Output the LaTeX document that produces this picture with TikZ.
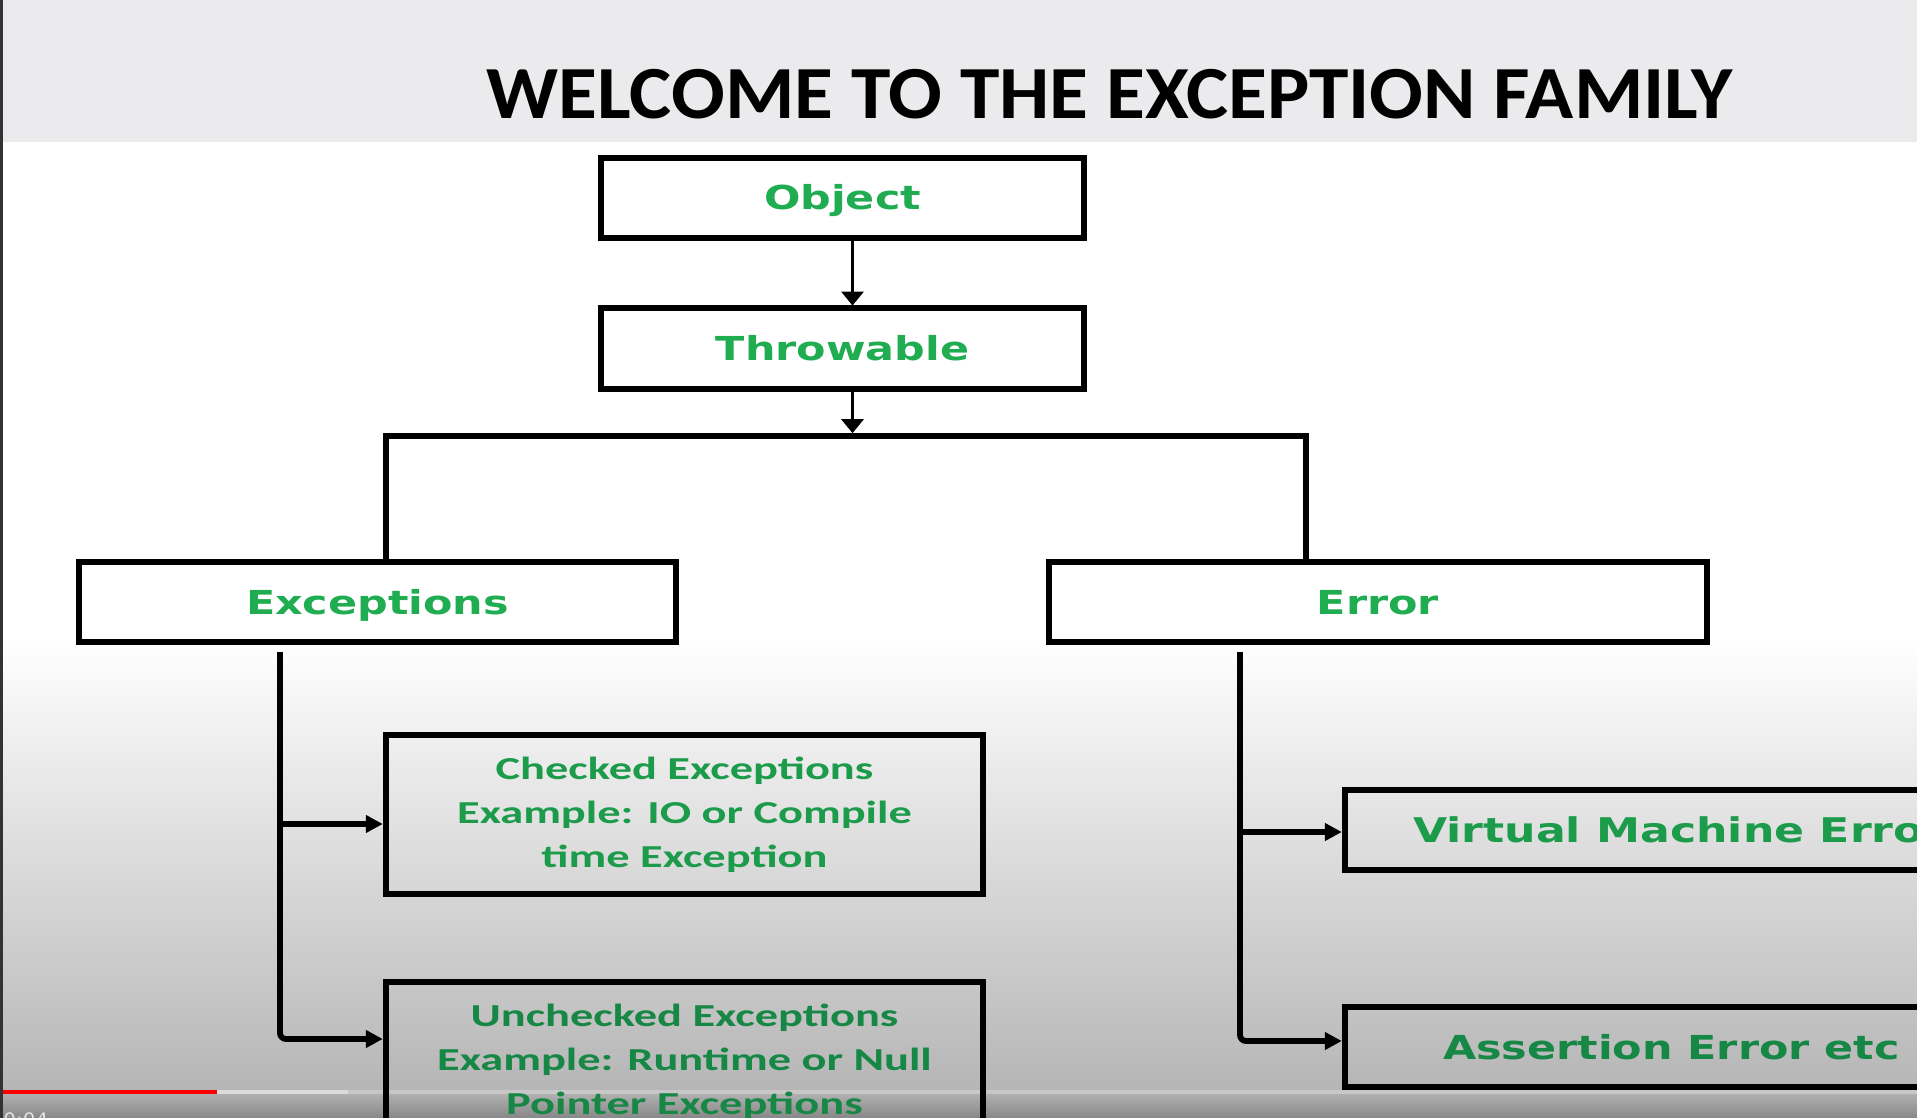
\documentclass[tikz,border=0pt]{standalone}
\usepackage{fontspec}
\usetikzlibrary{arrows.meta}
\newfontfamily\titlefont{Carlito}[FakeStretch=1.06]
\newfontfamily\cfont{Carlito}[FakeStretch=1.45]
\newfontfamily\vfont{DejaVu Sans}[FakeStretch=1.3]
\newfontfamily\tsfont{DejaVu Sans}
\definecolor{gA}{RGB}{32,172,80}
\definecolor{gB}{RGB}{28,155,75}
\definecolor{gC}{RGB}{22,135,68}
\definecolor{band}{RGB}{235,235,237}
\definecolor{midgray}{gray}{0.89}
\definecolor{lowgray}{gray}{0.71}
\definecolor{barbot}{gray}{0.69}
\definecolor{ctrlbot}{gray}{0.53}
\definecolor{bufgray}{gray}{0.86}
\tikzset{
  box/.style={draw=black, line width=3.2pt, inner sep=0pt, outer sep=0pt, align=center},
  vlab/.style={font=\vfont\bfseries\fontsize{16.5}{20}\selectfont, text height=12pt, text depth=0pt},
  clab/.style={font=\cfont\bfseries\fontsize{16}{22}\selectfont},
  arrA/.style={line width=1.5pt, -{Triangle[length=7pt,width=11pt]}, shorten >=1.2pt},
  trunk/.style={line width=2.9pt, line join=miter},
  arrB/.style={line width=2.9pt, rounded corners=3pt, -{Triangle[length=8.5pt,width=8.5pt]}, shorten >=1.6pt}
}
\begin{document}
\begin{tikzpicture}[x=0.5pt,y=-0.5pt]
\useasboundingbox (0,0) rectangle (1917,1118);
\clip (0,0) rectangle (1917,1118);
% background
\fill[white] (0,0) rectangle (1917,1118);
\fill[band] (0,0) rectangle (1917,142);
\shade[top color=white, middle color=midgray, bottom color=lowgray] (0,640) rectangle (1917,1094);
\shade[top color=barbot, bottom color=ctrlbot] (0,1094) rectangle (1917,1118);
\fill[red] (0,1090) rectangle (217,1094);
\fill[bufgray] (217,1090) rectangle (348,1094);
\fill[white, opacity=0.25] (348,1090) rectangle (1917,1094);
\fill[black!80] (0,0) rectangle (2.5,1118);
\node[anchor=base west, inner sep=0pt, text=black!12, font=\tsfont\fontsize{10}{12}\selectfont] (ts) at (3,1127) {0:04};

% title
\node[anchor=base, inner sep=0pt, font=\titlefont\bfseries\fontsize{37.5}{44}\selectfont] (title) at (1109.5,119) {WELCOME TO THE EXCEPTION FAMILY};

% boxes
\node[box, vlab, text=gA, minimum width=241.5pt, minimum height=40pt] (ob) at (842.5,198) {Object};
\node[box, vlab, text=gA, minimum width=241.5pt, minimum height=40.5pt] (th) at (842.5,348.5) {Throwable};
\node[box, vlab, text=gA, minimum width=298.5pt, minimum height=40pt] (ex) at (377.5,602) {Exceptions};
\node[box, vlab, text=gA, minimum width=329pt, minimum height=40pt] (er) at (1378,602) {Error};
\node[box, clab, text=gB, minimum width=298.5pt, minimum height=79.5pt] (ch) at (684.5,814.5) {Checked Exceptions\\Example: IO or Compile\\time Exception};
\node[box, clab, text=gC, minimum width=298.5pt, minimum height=79.5pt] (uc) at (684.5,1061.5) {Unchecked Exceptions\\Example: Runtime or Null\\Pointer Exceptions};
\node[box, vlab, font=\vfont\bfseries\fontsize{17}{20}\selectfont, text=gB, anchor=west, inner xsep=34pt, minimum height=40pt] (vm) at (1345,830) {Virtual Machine Error};
\node[box, vlab, text=gC, anchor=west, inner xsep=49pt, minimum height=40pt] (as) at (1345,1047) {Assertion Error etc};

% connectors
\draw[arrA] ([xshift=5pt]ob.south) -- ([xshift=5pt]th.north);
\coordinate (bl) at (386,436);
\coordinate (br) at (1306,436);
\draw[trunk] (bl |- ex.north) -- (bl) -- (br) -- (br |- er.north);
\draw[arrA, shorten >=1.4pt] ([xshift=5pt]th.south) -- ([xshift=5pt]th.south |- bl);

\coordinate (ltop) at (280,652);
\coordinate (rtop) at (1240,652);
\coordinate (y1) at (0,824);
\coordinate (y2) at (0,1039);
\coordinate (y3) at (0,832);
\coordinate (y4) at (0,1041);
\draw[arrB] (ltop) |- (uc.west |- y2);
\draw[arrB] (ltop |- y1) -- (ch.west |- y1);
\draw[arrB] (rtop) |- (as.west |- y4);
\draw[arrB] (rtop |- y3) -- (vm.west |- y3);
\end{tikzpicture}
\end{document}
